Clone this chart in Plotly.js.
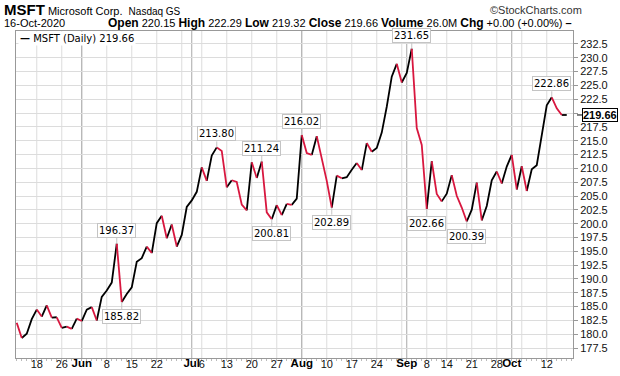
<!DOCTYPE html>
<html><head><meta charset="utf-8">
<script src="https://cdn.plot.ly/plotly-3.0.1.min.js"></script>
<style>html,body{margin:0;padding:0;background:#fff;}#chart{width:620px;height:376px;}</style>
</head><body><div id="chart"></div>
<script>
// ---- data ----
const dates = [
'2020-05-12','2020-05-13','2020-05-14','2020-05-15','2020-05-18','2020-05-19','2020-05-20','2020-05-21','2020-05-22','2020-05-26','2020-05-27','2020-05-28','2020-05-29',
'2020-06-01','2020-06-02','2020-06-03','2020-06-04','2020-06-05','2020-06-08','2020-06-09','2020-06-10','2020-06-11','2020-06-12',
'2020-06-15','2020-06-16','2020-06-17','2020-06-18','2020-06-19','2020-06-22','2020-06-23','2020-06-24','2020-06-25','2020-06-26','2020-06-29','2020-06-30',
'2020-07-01','2020-07-02','2020-07-06','2020-07-07','2020-07-08','2020-07-09','2020-07-10','2020-07-13','2020-07-14','2020-07-15','2020-07-16','2020-07-17',
'2020-07-20','2020-07-21','2020-07-22','2020-07-23','2020-07-24','2020-07-27','2020-07-28','2020-07-29','2020-07-30','2020-07-31',
'2020-08-03','2020-08-04','2020-08-05','2020-08-06','2020-08-07','2020-08-10','2020-08-11','2020-08-12','2020-08-13','2020-08-14',
'2020-08-17','2020-08-18','2020-08-19','2020-08-20','2020-08-21','2020-08-24','2020-08-25','2020-08-26','2020-08-27','2020-08-28','2020-08-31',
'2020-09-01','2020-09-02','2020-09-03','2020-09-04','2020-09-08','2020-09-09','2020-09-10','2020-09-11','2020-09-14','2020-09-15','2020-09-16','2020-09-17','2020-09-18',
'2020-09-21','2020-09-22','2020-09-23','2020-09-24','2020-09-25','2020-09-28','2020-09-29','2020-09-30',
'2020-10-01','2020-10-02','2020-10-05','2020-10-06','2020-10-07','2020-10-08','2020-10-09','2020-10-12','2020-10-13','2020-10-14','2020-10-15','2020-10-16'
];
const closes = [
182.07,179.32,180.09,182.72,184.46,183.19,185.21,182.99,183.07,181.13,181.37,180.96,182.81,
182.39,184.46,184.91,182.48,186.75,187.91,189.34,196.37,185.82,187.29,
188.48,193.10,193.77,195.85,194.68,200.09,201.42,197.36,199.86,195.86,197.96,203.02,
204.21,205.76,210.19,207.75,212.32,213.80,213.15,206.57,207.85,207.54,203.43,202.39,
211.09,208.25,211.24,202.05,200.81,203.36,201.53,203.57,203.41,204.52,
216.02,212.78,212.43,215.83,211.97,207.75,202.89,208.69,208.20,208.40,
209.77,210.98,209.70,214.58,213.02,213.69,216.47,221.15,226.58,228.91,225.53,
227.27,231.65,217.30,214.25,202.66,211.29,205.37,204.03,205.41,208.78,205.05,202.91,200.39,
202.54,207.42,200.59,203.19,207.82,209.44,207.26,210.33,
212.46,206.19,210.38,205.91,209.83,210.58,215.81,221.40,222.86,220.86,219.66,219.66
];
const dayTickDates = ['2020-05-18','2020-05-26','2020-06-08','2020-06-15','2020-06-22','2020-07-06','2020-07-13','2020-07-20','2020-07-27','2020-08-10','2020-08-17','2020-08-24','2020-09-08','2020-09-14','2020-09-21','2020-09-28','2020-10-12'];
const dayTickText = ['18','26','8','15','22','6','13','20','27','10','17','24','8','14','21','28','12'];
const monthDates = ['2020-06-01','2020-07-01','2020-08-03','2020-09-01','2020-10-01'];
const monthText = ['Jun','Jul','Aug','Sep','Oct'];
const weekDates = ['2020-05-18','2020-05-26','2020-06-01','2020-06-08','2020-06-15','2020-06-22','2020-06-29','2020-07-06','2020-07-13','2020-07-20','2020-07-27','2020-08-03','2020-08-10','2020-08-17','2020-08-24','2020-08-31','2020-09-08','2020-09-14','2020-09-21','2020-09-28','2020-10-05','2020-10-12'];
const yTicks = [177.5,180,182.5,185,187.5,190,192.5,195,197.5,200,202.5,205,207.5,210,212.5,215,217.5,220,222.5,225,227.5,230,232.5];
const highDates = ['2020-06-10','2020-07-09','2020-07-22','2020-08-03','2020-09-02','2020-10-13'];
const lowDates = ['2020-06-11','2020-07-24','2020-08-11','2020-09-08','2020-09-18'];
const lastClose = 219.66;
const headerStats = [['Open','220.15'],['High','222.29'],['Low','219.32'],['Close','219.66'],['Volume','26.0M'],['Chg','+0.00 (+0.00%)']];

// ---- build ----
const RED = '#d8173f';
const xi = d => dates.indexOf(d);
const upX=[],upY=[],dnX=[],dnY=[];
let prev = null;
for (let i=1;i<closes.length;i++){
  const up = closes[i] >= closes[i-1];
  const X = up?upX:dnX, Y = up?upY:dnY;
  if (prev !== up){ if (X.length){X.push(null);Y.push(null);} X.push(i-1); Y.push(closes[i-1]); }
  X.push(i); Y.push(closes[i]);
  prev = up;
}
const traces = [
  {x:upX,y:upY,type:'scatter',mode:'lines',line:{color:'#000',width:1.8},connectgaps:false,hoverinfo:'skip',showlegend:false},
  {x:dnX,y:dnY,type:'scatter',mode:'lines',line:{color:RED,width:1.8},connectgaps:false,hoverinfo:'skip',showlegend:false},
  {x:[null],y:[null],xaxis:'x2',yaxis:'y',type:'scatter',mode:'lines',hoverinfo:'skip',showlegend:false}
];

const L=16,R=573,T=31,B=358;
const px = v => (v-L)/(R-L), py = v => (B-v)/(B-T);
const XR = [-0.15,111.25];

const shapes = [];
weekDates.forEach(d=>shapes.push({type:'line',xref:'x',yref:'paper',x0:xi(d),x1:xi(d),y0:0,y1:1,line:{color:'#dcdcdc',width:1},layer:'below'}));
monthDates.forEach(d=>shapes.push({type:'line',xref:'x',yref:'paper',x0:xi(d),x1:xi(d),y0:0,y1:1,line:{color:'#a8a8a8',width:1},layer:'below'}));

const lblFont = {family:'DejaVu Sans, Verdana, sans-serif',size:10,color:'#000'};
const ann = [];
highDates.forEach(d=>ann.push({x:xi(d),y:closes[xi(d)],xref:'x',yref:'y',text:closes[xi(d)].toFixed(2),font:lblFont,bgcolor:'#fff',bordercolor:'#c4c4c4',borderwidth:1,borderpad:1,showarrow:true,arrowhead:0,arrowwidth:1,arrowcolor:'#c4c4c4',ax:0,ay:-6,yanchor:'bottom',standoff:0}));
lowDates.forEach(d=>ann.push({x:xi(d),y:closes[xi(d)],xref:'x',yref:'y',text:closes[xi(d)].toFixed(2),font:lblFont,bgcolor:'#fff',bordercolor:'#c4c4c4',borderwidth:1,borderpad:1,showarrow:true,arrowhead:0,arrowwidth:1,arrowcolor:'#c4c4c4',ax:0,ay:7,yanchor:'top',standoff:0}));
// last value box on right axis
ann.push({xref:'paper',yref:'y',x:px(577),y:lastClose,text:'<b>'+lastClose.toFixed(2)+'</b>',font:{family:'Liberation Sans, Arial, sans-serif',size:11,color:'#000'},bgcolor:'#fff',bordercolor:'#000',borderwidth:1,borderpad:0,showarrow:true,arrowhead:0,arrowwidth:1,arrowcolor:'#000',ax:5,ay:0,xanchor:'left',standoff:0});
// legend
ann.push({xref:'paper',yref:'paper',x:px(18),y:py(38),xanchor:'left',yanchor:'middle',text:'<b>—</b> MSFT (Daily) '+lastClose.toFixed(2),font:{family:'DejaVu Sans, Verdana, sans-serif',size:10,color:'#000'},bgcolor:'#fff',showarrow:false,borderpad:1});
// header
ann.push({xref:'paper',yref:'paper',x:px(2),y:py(10),xanchor:'left',yanchor:'middle',showarrow:false,
  text:'<b><span style="font-size:15px">MSFT</span></b> <span style="font-size:11px">Microsoft Corp.</span>  <span style="font-size:10px">Nasdaq GS</span>',
  font:{family:'Liberation Sans, Arial, sans-serif',size:11,color:'#000'}});
ann.push({xref:'paper',yref:'paper',x:px(584),y:py(10),xanchor:'right',yanchor:'middle',showarrow:false,
  text:'©StockCharts.com',font:{family:'Liberation Sans, Arial, sans-serif',size:11,color:'#333'}});
ann.push({xref:'paper',yref:'paper',x:px(2),y:py(23),xanchor:'left',yanchor:'middle',showarrow:false,
  text:'16-Oct-2020',font:{family:'Liberation Sans, Arial, sans-serif',size:11,color:'#000'}});
ann.push({xref:'paper',yref:'paper',x:px(106),y:py(23),xanchor:'left',yanchor:'middle',showarrow:false,
  text:headerStats.map(s=>'<b><span style="font-size:12px">'+s[0]+'</span></b> '+s[1]).join(' ')+' <b>–</b>',font:{family:'Liberation Sans, Arial, sans-serif',size:11,color:'#000'}});

const tf = {family:'Liberation Sans, Arial, sans-serif',size:11,color:'#111'};
const layout = {
  width:620,height:376,
  margin:{l:L,r:620-R,t:T,b:376-B,pad:0},
  paper_bgcolor:'#fff',plot_bgcolor:'#fff',
  showlegend:false,
  xaxis:{range:XR,tickmode:'array',tickvals:dayTickDates.map(xi),ticktext:dayTickText,
    showgrid:false,zeroline:false,showline:true,mirror:true,linecolor:'#999',linewidth:1,
    ticks:'',ticklabelstandoff:-4,
    minor:{tickmode:'linear',tick0:0,dtick:1,ticks:'outside',ticklen:2,tickcolor:'#bbb',showgrid:false},
    tickfont:tf,fixedrange:true},
  xaxis2:{range:XR,overlaying:'x',side:'bottom',anchor:'y',tickmode:'array',tickvals:monthDates.map(xi),ticktext:monthText,
    showgrid:false,zeroline:false,showline:false,ticks:'',ticklabelstandoff:-4,
    tickfont:Object.assign({},tf,{weight:'bold',color:'#000',size:11.5}),fixedrange:true},
  yaxis:{range:[175.7,234.85],side:'right',tickmode:'array',tickvals:yTicks,
    ticktext:yTicks.map(v=>Math.abs(v-lastClose)<1.2?'':v.toFixed(1)),
    showgrid:true,gridcolor:'#dcdcdc',gridwidth:1,zeroline:false,showline:true,mirror:true,linecolor:'#999',linewidth:1,
    ticks:'outside',ticklen:4,tickcolor:'#999',
    tickfont:tf,fixedrange:true},
  shapes:shapes,
  annotations:ann
};
Plotly.newPlot('chart',traces,layout,{displayModeBar:false,staticPlot:true});
</script></body></html>
